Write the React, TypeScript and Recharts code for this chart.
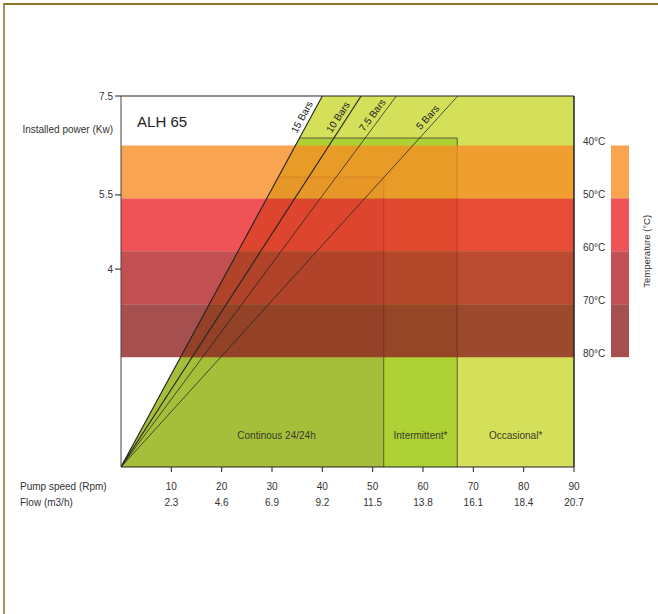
import React from 'react';
import { ComposedChart, Area, Line, XAxis, YAxis, ReferenceLine, LabelList } from 'recharts';

// ---------- data ----------
const speedTicks = [10, 20, 30, 40, 50, 60, 70, 80, 90];
const flowLabels = ['2.3', '4.6', '6.9', '9.2', '11.5', '13.8', '16.1', '18.4', '20.7'];
const powerTicks = [4, 5.5, 7.5];

const pressureNames = ['15 Bars', '10 Bars', '7.5 Bars', '5 Bars'];
const pressureTopSpeed = [40, 47.7, 54.7, 66.9]; // speed where each pressure line reaches 7.5 kW

const zoneNames = ['Continous 24/24h', 'Intermittent*', 'Occasional*'];
const zoneMaxSpeed = [52.2, 66.8, 90];
const zoneMaxPower = [5.86, 6.65, 7.5];
const zoneLabelSpeed = [30.9, 59.5, 78.4];
const zoneLabelPower = [0.63, 0.63, 0.63];

const tempNames = ['40°C', '50°C', '60°C', '70°C', '80°C'];
const tempBounds = [6.5, 5.43, 4.36, 3.29, 2.22];

const title = 'ALH 65';
const titleSpeed = 3.2;
const titlePower = 6.97;

// ---------- style ----------
const FONT = '"Liberation Sans", Arial, Helvetica, sans-serif';
const W = 658;
const H = 614;
const MARGIN = { top: 96, right: 14, bottom: 117, left: 0 };
const LEFT_AXIS_W = 121;
const RIGHT_AXIS_W = 70;
const X_AXIS_H = 30;
const PLOT_W = W - MARGIN.left - MARGIN.right - LEFT_AXIS_W - RIGHT_AXIS_W;
const PLOT_H = H - MARGIN.top - MARGIN.bottom - X_AXIS_H;
const X_MAX = 90;
const Y_MAX = 7.5;
const PX_X = PLOT_W / X_MAX;
const PX_Y = PLOT_H / Y_MAX;

const zoneColors = ['#A6BF3A', '#AED236', '#D4E05A'];
const zoneStroke = ['#5c5a36', '#5c5a36', 'none'];
const tempColors = ['#F68D24', '#EB272D', '#B32427', '#8E2323'];
const TEMP_OPACITY = 0.8;
const lineWidths = [1.1, 1.1, 0.75, 0.75];
const labelEndOffset = [11, 13, 11, 21.5];
const TXT = '#333';

const makeBarLabel = (i: number) => (props: any) => {
  const { x, y, index } = props;
  if (index !== 1) return null;
  const dx = pressureTopSpeed[i] * PX_X;
  const dy = Y_MAX * PX_Y;
  const len = Math.hypot(dx, dy);
  const ux = -dx / len;
  const uy = dy / len;
  const e = labelEndOffset[i];
  const p = 8;
  const ax = x + ux * e - uy * p;
  const ay = y + uy * e + ux * p;
  const ang = (-Math.atan2(dy, dx) * 180) / Math.PI;
  return (
    <text
      x={ax}
      y={ay}
      dy="0.35em"
      textAnchor="end"
      fontSize={10}
      fontFamily={FONT}
      fill="#222"
      transform={`rotate(${ang} ${ax} ${ay})`}
    >
      {pressureNames[i]}
    </text>
  );
};

const XTick = (props: any) => {
  const { x, y, payload } = props;
  const idx = speedTicks.indexOf(payload.value);
  return (
    <g>
      <text x={x} y={y + 15.5} textAnchor="middle" fontSize={10} fontFamily={FONT} fill={TXT}>
        {payload.value}
      </text>
      <text x={x} y={y + 32} textAnchor="middle" fontSize={10} fontFamily={FONT} fill={TXT}>
        {flowLabels[idx]}
      </text>
    </g>
  );
};

const YTick = (props: any) => {
  const { x, y, payload } = props;
  return (
    <text x={x} y={y} dy="0.35em" textAnchor="end" fontSize={10} fontFamily={FONT} fill={TXT}>
      {payload.value}
    </text>
  );
};

const TempTick = (props: any) => {
  const { x, y, payload } = props;
  const idx = tempBounds.indexOf(payload.value);
  const h = idx < tempBounds.length - 1 ? (tempBounds[idx] - tempBounds[idx + 1]) * PX_Y : 0;
  return (
    <g>
      {h > 0 && (
        <rect x={x + 28} y={y} width={18} height={h} fill={tempColors[idx]} fillOpacity={TEMP_OPACITY} />
      )}
      <text x={x} y={y} textAnchor="start" fontSize={10} fontFamily={FONT} fill={TXT}>
        {tempNames[idx]}
      </text>
    </g>
  );
};

const XAxisTitle = (props: any) => {
  const vb = props.viewBox;
  return (
    <g>
      <text x={vb.x - 101} y={vb.y + 22.5} fontSize={10} fontFamily={FONT} fill={TXT}>
        Pump speed (Rpm)
      </text>
      <text x={vb.x - 101} y={vb.y + 39} fontSize={10} fontFamily={FONT} fill={TXT}>
        Flow (m3/h)
      </text>
    </g>
  );
};

const YAxisTitle = (props: any) => {
  const vb = props.viewBox;
  return (
    <text x={vb.x + vb.width - 8} y={vb.y + 37} textAnchor="end" fontSize={10} fontFamily={FONT} fill={TXT}>
      Installed power (Kw)
    </text>
  );
};

const TempTitle = (props: any) => {
  const vb = props.viewBox;
  const mid = (tempBounds[0] + tempBounds[tempBounds.length - 1]) / 2;
  const tx = vb.x + 73;
  const ty = vb.y + (Y_MAX - mid) * PX_Y;
  return (
    <text
      x={tx}
      y={ty}
      dy="0.35em"
      textAnchor="middle"
      fontSize={9.5}
      fontFamily={FONT}
      fill={TXT}
      transform={`rotate(-90 ${tx} ${ty})`}
    >
      Temperature (°C)
    </text>
  );
};

const ZoneLabel = (props: any) => {
  const { x, y, value, index } = props;
  if (index !== 0) return null;
  return (
    <text x={x} y={y} dy="0.35em" textAnchor="middle" fontSize={10} fontFamily={FONT} fill="#3a3a2a">
      {value}
    </text>
  );
};

const TitleLabel = (props: any) => {
  const { x, y, value, index } = props;
  if (index !== 0) return null;
  return (
    <text x={x} y={y} dy="0.35em" textAnchor="start" fontSize={15} fontFamily={FONT} fill="#222">
      {value}
    </text>
  );
};

export default function App() {
  // zone polygons (drawn widest first)
  const zoneOrder = [2, 1, 0];
  const zoneData = zoneOrder.map((z) => [
    { x: 0, y: zoneMaxPower[z] },
    { x: zoneMaxSpeed[z], y: zoneMaxPower[z] },
    { x: zoneMaxSpeed[z], y: 0 },
  ]);
  // white region left of the 15 bar line
  const whiteData = [
    { x: 0, r: [0, Y_MAX] },
    { x: pressureTopSpeed[0], r: [Y_MAX, Y_MAX] },
  ];
  const bandData = tempColors.map((_, i) => [
    { x: 0, r: [tempBounds[i + 1], tempBounds[i]] },
    { x: X_MAX, r: [tempBounds[i + 1], tempBounds[i]] },
  ]);
  const lineData = pressureTopSpeed.map((s) => [
    { x: 0, y: 0 },
    { x: s, y: Y_MAX },
  ]);
  // two identical points so that no isolated-point dot is drawn
  const zoneLabelData = zoneNames.map((n, i) => [
    { x: zoneLabelSpeed[i], y: zoneLabelPower[i], name: n },
    { x: zoneLabelSpeed[i], y: zoneLabelPower[i], name: n },
  ]);
  const titleData = [
    { x: titleSpeed, y: titlePower, name: title },
    { x: titleSpeed, y: titlePower, name: title },
  ];

  return (
    <div style={{ position: 'absolute', left: 0, top: 0, width: W, height: H, background: '#fff', fontFamily: FONT }}>
      <div
        style={{
          position: 'absolute',
          left: 3,
          top: 3,
          right: 0,
          bottom: 0,
          borderTop: '2px solid #94752c',
          borderLeft: '2px solid #a8915c',
        }}
      />
      <div style={{ position: 'absolute', left: 0, top: 0 }}>
        <ComposedChart width={W} height={H} margin={MARGIN}>
          <XAxis
            type="number"
            dataKey="x"
            domain={[0, X_MAX]}
            ticks={speedTicks}
            interval={0}
            allowDataOverflow
            height={X_AXIS_H}
            tickSize={5}
            tickMargin={2}
            tick={<XTick />}
            tickLine={{ stroke: '#222' }}
            axisLine={{ stroke: '#222' }}
            label={{ content: <XAxisTitle /> }}
          />
          <YAxis
            type="number"
            domain={[0, Y_MAX]}
            ticks={powerTicks}
            interval={0}
            allowDataOverflow
            width={LEFT_AXIS_W}
            tickSize={6}
            tickMargin={2}
            tick={<YTick />}
            tickLine={{ stroke: '#222' }}
            axisLine={{ stroke: '#444' }}
            label={{ content: <YAxisTitle /> }}
          />
          <YAxis
            yAxisId="right"
            orientation="right"
            type="number"
            domain={[0, Y_MAX]}
            ticks={tempBounds}
            interval={0}
            allowDataOverflow
            width={RIGHT_AXIS_W}
            tickSize={6}
            tickMargin={3}
            tick={<TempTick />}
            tickLine={false}
            axisLine={{ stroke: '#222' }}
            label={{ content: <TempTitle /> }}
          />

          {zoneOrder.map((z, k) => (
            <Area
              key={'zone' + z}
              data={zoneData[k]}
              dataKey="y"
              type="linear"
              baseValue={0}
              fill={zoneColors[z]}
              fillOpacity={1}
              stroke={zoneStroke[z]}
              strokeWidth={1}
              isAnimationActive={false}
              dot={false}
              activeDot={false}
            />
          ))}
          <Area
            data={whiteData}
            dataKey="r"
            type="linear"
            fill="#ffffff"
            fillOpacity={1}
            stroke="none"
            isAnimationActive={false}
            dot={false}
            activeDot={false}
          />
          {bandData.map((d, i) => (
            <Area
              key={'band' + i}
              data={d}
              dataKey="r"
              type="linear"
              fill={tempColors[i]}
              fillOpacity={TEMP_OPACITY}
              stroke="none"
              isAnimationActive={false}
              dot={false}
              activeDot={false}
            />
          ))}
          {lineData.map((d, i) => (
            <Line
              key={'p' + i}
              data={d}
              dataKey="y"
              type="linear"
              stroke="#222"
              strokeWidth={lineWidths[i]}
              dot={false}
              activeDot={false}
              isAnimationActive={false}
            >
              <LabelList dataKey="y" content={makeBarLabel(i)} />
            </Line>
          ))}
          {zoneLabelData.map((d, i) => (
            <Line
              key={'zl' + i}
              data={d}
              dataKey="y"
              stroke="none"
              strokeWidth={0}
              dot={false}
              activeDot={false}
              isAnimationActive={false}
            >
              <LabelList dataKey="name" content={<ZoneLabel />} />
            </Line>
          ))}
          <Line
            data={titleData}
            dataKey="y"
            stroke="none"
            strokeWidth={0}
            dot={false}
            activeDot={false}
            isAnimationActive={false}
          >
            <LabelList dataKey="name" content={<TitleLabel />} />
          </Line>
          <ReferenceLine y={Y_MAX} stroke="#222" strokeWidth={1} />
          <ReferenceLine x={X_MAX} stroke="#222" strokeWidth={1} />
        </ComposedChart>
      </div>
    </div>
  );
}
